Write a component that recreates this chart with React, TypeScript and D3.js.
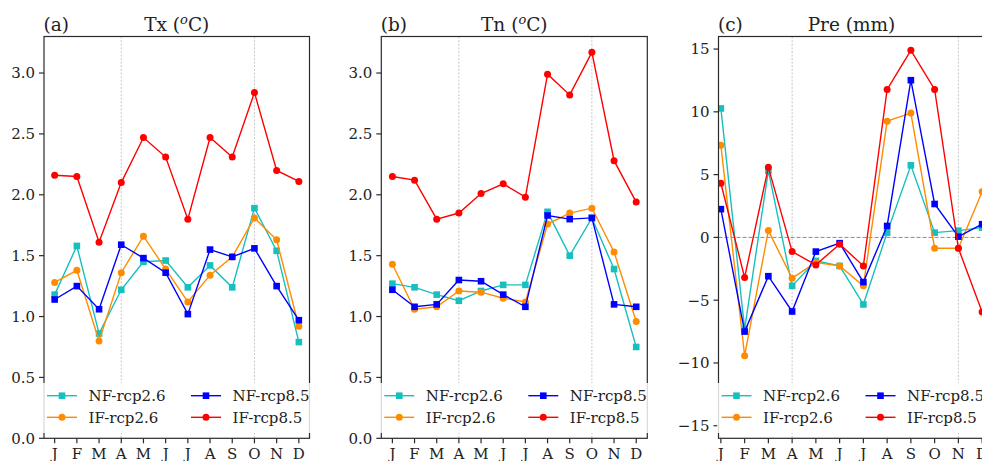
import React from 'react';
import * as d3 from 'd3';

const W = 982;
const H = 461;

const months = ['J', 'F', 'M', 'A', 'M', 'J', 'J', 'A', 'S', 'O', 'N', 'D'];
const seriesNames = ['NF-rcp2.6', 'IF-rcp2.6', 'NF-rcp8.5', 'IF-rcp8.5'];
const seriesColors = ['#17bfbf', '#ff8c00', '#0000ff', '#ff0000'];
const seriesMarkers = ['square', 'circle', 'square', 'circle'];

// Tx (oC)
const txNF26 = [1.18, 1.58, 0.86, 1.22, 1.45, 1.46, 1.24, 1.42, 1.24, 1.89, 1.54, 0.79];
const txIF26 = [1.28, 1.38, 0.80, 1.36, 1.66, 1.39, 1.12, 1.34, 1.49, 1.81, 1.63, 0.92];
const txNF85 = [1.14, 1.25, 1.06, 1.59, 1.48, 1.36, 1.02, 1.55, 1.49, 1.56, 1.25, 0.97];
const txIF85 = [2.16, 2.15, 1.61, 2.10, 2.47, 2.31, 1.80, 2.47, 2.31, 2.84, 2.20, 2.11];

// Tn (oC)
const tnNF26 = [1.27, 1.24, 1.18, 1.13, 1.21, 1.26, 1.26, 1.86, 1.50, 1.81, 1.39, 0.75];
const tnIF26 = [1.43, 1.06, 1.08, 1.21, 1.20, 1.15, 1.12, 1.76, 1.85, 1.89, 1.53, 0.96];
const tnNF85 = [1.22, 1.08, 1.10, 1.30, 1.29, 1.18, 1.08, 1.83, 1.80, 1.81, 1.10, 1.08];
const tnIF85 = [2.15, 2.12, 1.80, 1.85, 2.01, 2.09, 1.98, 2.99, 2.82, 3.17, 2.28, 1.94];

// Pre (mm)
const preNF26 = [10.27, -7.3, 5.31, -3.86, -1.87, -2.27, -5.34, 0.38, 5.74, 0.38, 0.54, 0.78];
const preIF26 = [7.33, -9.42, 0.54, -3.25, -2.0, -2.27, -3.86, 9.26, 9.9, -0.86, -0.86, 3.64];
const preNF85 = [2.25, -7.5, -3.09, -5.9, -1.13, -0.46, -3.56, 0.91, 12.52, 2.66, 0.06, 1.05];
const preIF85 = [4.31, -3.19, 5.58, -1.13, -2.19, -0.54, -2.27, 11.78, 14.9, 11.78, -0.86, -5.95];

const tempTicks = [0, 0.5, 1.0, 1.5, 2.0, 2.5, 3.0];
const preTicks = [-15, -10, -5, 0, 5, 10, 15];

const FONT = "'DejaVu Serif', serif";
const TOP = 36.5;
const BOTTOM = 438.3;

type Panel = {
  key: string;
  label: string;
  title: string;
  sup: boolean;
  left: number;
  right: number;
  xDomain: [number, number];
  yDomain: [number, number];
  yTicks: number[];
  fmt: (v: number) => string;
  grid: number[];
  zeroLine: boolean;
  data: number[][];
};

const fmt1 = (v: number) => v.toFixed(1);
const fmtInt = (v: number) => (v < 0 ? '\u2212' + Math.abs(v) : String(v));

const panels: Panel[] = [
  {
    key: 'a', label: '(a)', title: 'Tx', sup: true, left: 44, right: 309.5,
    xDomain: [-0.48, 11.48], yDomain: [0, 3.3], yTicks: tempTicks, fmt: fmt1,
    grid: [3, 9], zeroLine: false, data: [txNF26, txIF26, txNF85, txIF85],
  },
  {
    key: 'b', label: '(b)', title: 'Tn', sup: true, left: 381.3, right: 647.3,
    xDomain: [-0.5, 11.5], yDomain: [0, 3.3], yTicks: tempTicks, fmt: fmt1,
    grid: [3, 9], zeroLine: false, data: [tnNF26, tnIF26, tnNF85, tnIF85],
  },
  {
    key: 'c', label: '(c)', title: 'Pre (mm)', sup: false, left: 718.5, right: 984.5,
    xDomain: [-0.1, 11.1], yDomain: [-16, 16], yTicks: preTicks, fmt: fmtInt,
    grid: [3, 10], zeroLine: true, data: [preNF26, preIF26, preNF85, preIF85],
  },
];

function Marker({ type, x, y, color }: { type: string; x: number; y: number; color: string }) {
  if (type === 'square') {
    const s = 6.6;
    return <rect x={x - s / 2} y={y - s / 2} width={s} height={s} fill={color} />;
  }
  return <circle cx={x} cy={y} r={3.5} fill={color} />;
}

function PanelView({ p }: { p: Panel }) {
  const x = d3.scaleLinear().domain(p.xDomain).range([p.left, p.right]);
  const y = d3.scaleLinear().domain(p.yDomain).range([BOTTOM, TOP]);
  const line = d3
    .line<number>()
    .x((_, i) => x(i))
    .y((d) => y(d));
  const cx = (p.left + p.right) / 2;
  const clipId = 'clip-' + p.key;
  const legTop = 383;
  const legBot = 433;
  const rows = [395.7, 417.3];
  const cols = [0, 144];
  const spine = '#2a2a2a';
  return (
    <g>
      <defs>
        <clipPath id={clipId}>
          <rect x={p.left} y={TOP} width={p.right - p.left} height={BOTTOM - TOP} />
        </clipPath>
      </defs>
      {/* grid lines */}
      {p.grid.map((g) => (
        <line key={'g' + g} x1={x(g)} x2={x(g)} y1={TOP} y2={BOTTOM} stroke="#b8b8b8"
          strokeWidth={0.8} strokeDasharray="2,1.6" />
      ))}
      {p.zeroLine && (
        <line x1={p.left} x2={p.right} y1={y(0)} y2={y(0)} stroke="#8a8a8a"
          strokeWidth={1} strokeDasharray="4,2" />
      )}
      {/* series */}
      <g clipPath={`url(#${clipId})`}>
        {p.data.map((vals, si) => (
          <g key={si}>
            <path d={line(vals) || ''} fill="none" stroke={seriesColors[si]} strokeWidth={1.4} />
            {vals.map((v, i) => (
              <Marker key={i} type={seriesMarkers[si]} x={x(i)} y={y(v)} color={seriesColors[si]} />
            ))}
          </g>
        ))}
      </g>
      {/* spines */}
      <rect x={p.left} y={TOP} width={p.right - p.left} height={BOTTOM - TOP} fill="none"
        stroke={spine} strokeWidth={1.2} />
      {/* y ticks */}
      {p.yTicks.map((t) => (
        <g key={'y' + t}>
          <line x1={p.left - 5} x2={p.left} y1={y(t)} y2={y(t)} stroke={spine} strokeWidth={1.2} />
          <text x={p.left - 9} y={y(t)} dy="0.36em" textAnchor="end" fontFamily={FONT}
            fontSize={15} fill="#222">{p.fmt(t)}</text>
        </g>
      ))}
      {/* x ticks */}
      {months.map((m, i) => (
        <g key={'x' + i}>
          <line x1={x(i)} x2={x(i)} y1={BOTTOM} y2={BOTTOM + 5} stroke={spine} strokeWidth={1.2} />
          <text x={x(i)} y={459} textAnchor="middle" fontFamily={FONT} fontSize={15} fill="#222">{m}</text>
        </g>
      ))}
      {/* legend */}
      <rect x={p.left - 1.5} y={legTop} width={272} height={legBot - legTop} fill="#ffffff"
        fillOpacity={0.82} />
      {seriesNames.map((name, si) => {
        const col = Math.floor(si / 2);
        const row = si % 2;
        const lx = p.left + 3 + cols[col];
        const ly = rows[row];
        return (
          <g key={'l' + si}>
            <line x1={lx} x2={lx + 30} y1={ly} y2={ly} stroke={seriesColors[si]} strokeWidth={1.4} />
            <Marker type={seriesMarkers[si]} x={lx + 15} y={ly} color={seriesColors[si]} />
            <text x={lx + 41.5} y={ly} dy="0.36em" fontFamily={FONT} fontSize={15} fill="#222">{name}</text>
          </g>
        );
      })}
      {/* titles */}
      <text x={p.left - 0.5} y={30.5} fontFamily={FONT} fontSize={18.5} fill="#222">{p.label}</text>
      {p.sup ? (
        <text x={cx} y={30.5} textAnchor="middle" fontFamily={FONT} fontSize={18.5} fill="#222">
          {p.title + ' ('}
          <tspan fontStyle="italic" fontSize={13} dy={-7}>o</tspan>
          <tspan dy={7}>C)</tspan>
        </text>
      ) : (
        <text x={cx} y={30.5} textAnchor="middle" fontFamily={FONT} fontSize={18.5} fill="#222">{p.title}</text>
      )}
    </g>
  );
}

export default function App() {
  return (
    <svg width={W} height={H} viewBox={`0 0 ${W} ${H}`}
      style={{ position: 'absolute', left: 0, top: 0, background: '#fff', overflow: 'hidden' }}>
      <rect x={0} y={0} width={W} height={H} fill="#fff" />
      {panels.map((p) => (
        <PanelView key={p.key} p={p} />
      ))}
    </svg>
  );
}
